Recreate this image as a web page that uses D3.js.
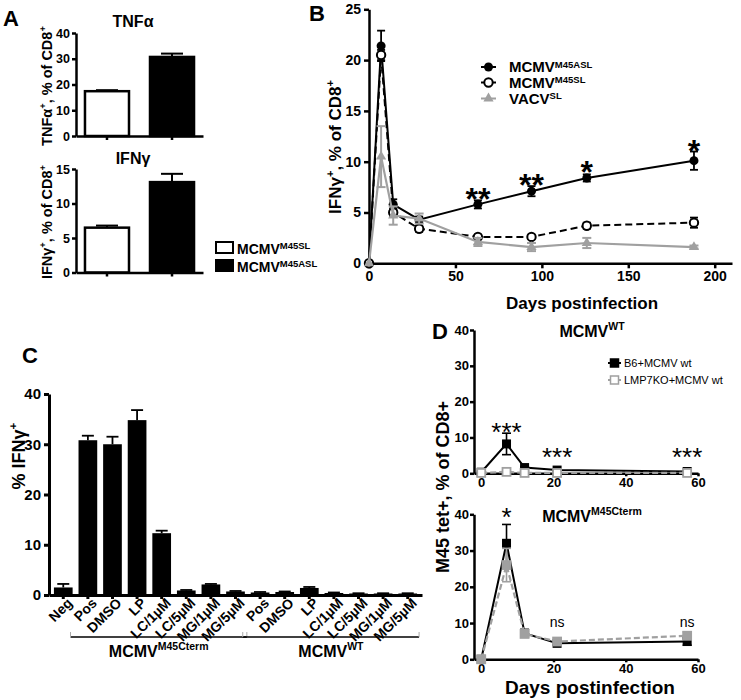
<!DOCTYPE html>
<html><head><meta charset="utf-8">
<script src="https://cdn.jsdelivr.net/npm/d3@7"></script>
<style>body{margin:0;background:#fff} svg text{font-family:Arial,"Liberation Sans",sans-serif}</style>
</head><body><svg id="c" width="741" height="700"></svg>
<script>
// ---------- DATA ----------
// Panel A
const aGroups = ["MCMV M45SL", "MCMV M45ASL"];
const aTnf = [17.4, 30.7];
const aTnfErr = [0.4, 1.3];
const aIfn = [6.5, 13.1];
const aIfnErr = [0.3, 1.2];
const aTnfTicks = [0, 10, 20, 30, 40];
const aIfnTicks = [0, 5, 10, 15];
// Panel B
const bDays = [0, 7, 14, 29, 63, 94, 126, 188];
const bAsl = [0, 21.4, 5.8, 4.3, 5.8, 7.1, 8.4, 10.1];
const bAslErr = [0, 1.5, 0.5, 0.3, 0.4, 0.5, 0.35, 0.9];
const bSl = [0, 20.5, 5.0, 3.4, 2.6, 2.6, 3.7, 4.0];
const bSlErr = [0, 0.5, 0.4, 0.3, 0.2, 0.2, 0.3, 0.5];
const bVacv = [0, 10.5, 4.7, 4.4, 2.1, 1.6, 2.0, 1.6];
const bVacvErr = [0, 3.0, 0.9, 0.5, 0.4, 0.4, 0.5, 0.15];
const bStarDays = [63, 94, 126, 188];
const bStarText = ["**", "**", "*", "*"];
const bStarLevel = [7.0, 8.4, 9.7, 11.7];
const bXTicks = [0, 50, 100, 150, 200];
const bYTicks = [0, 5, 10, 15, 20, 25];
// Panel C
const cLabels = ["Neg", "Pos", "DMSO", "LP", "LC/1µM", "LC/5µM", "MG/1µM", "MG/5µM",
                 "Pos", "DMSO", "LP", "LC/1µM", "LC/5µM", "MG/1µM", "MG/5µM"];
const cValues = [1.5, 30.8, 30.0, 34.8, 12.3, 0.9, 2.1, 0.7, 0.5, 0.6, 1.4, 0.4, 0.3, 0.3, 0.3];
const cErr = [0.7, 0.9, 1.5, 2.0, 0.5, 0.1, 0.1, 0.1, 0.1, 0.1, 0.2, 0.1, 0.05, 0.05, 0.05];
const cYTicks = [0, 10, 20, 30, 40];
const cGroupSpans = [[1, 7], [8, 14]];
const cGroupSup = ["M45Cterm", "WT"];
// Panel D
const dDays = [0, 7, 12, 21, 57];
const dWtB6 = [0.3, 8.2, 1.6, 0.9, 0.5];
const dWtB6Err = [0.2, 3.0, 0.3, 0.2, 0.2];
const dWtKo = [0.1, 0.4, 0.1, 0.1, 0.1];
const dWtKoErr = [0, 0.2, 0, 0, 0];
const dCtB6 = [0, 32.0, 7.2, 4.4, 4.9];
const dCtB6Err = [0, 5.2, 1.0, 0.5, 1.0];
const dCtKo = [0, 26.0, 7.0, 4.9, 6.5];
const dCtKoErr = [0, 4.6, 0.8, 0.5, 1.0];
const dXTicks = [0, 20, 40, 60];
const dYTicks = [0, 10, 20, 30, 40];
const dWtStarDays = [7, 21, 57];
const dWtStarLevel = [12.8, 5.9, 5.9];
const dCtMarkDays = [7, 21, 57];
const dCtMarkText = ["*", "ns", "ns"];
const dCtMarkLevel = [40.5, 9.0, 9.0];
const dLegend = ["B6+MCMV wt", "LMP7KO+MCMV wt"];

// ---------- HELPERS ----------
const svg = d3.select("#c");
const GREY = "#a0a0a0";

function rich(parent, x, y, parts, fs, opts = {}) {
  const t = parent.append("text")
    .attr("x", x).attr("y", y)
    .attr("font-size", fs)
    .attr("font-weight", opts.weight || "bold")
    .attr("text-anchor", opts.anchor || "start")
    .attr("fill", opts.fill || "#000");
  if (opts.transform) t.attr("transform", opts.transform);
  let cur = 0;
  const shift = opts.supShift || 0.42;
  parts.forEach(p => {
    const target = p.sup ? fs * shift : 0;
    const s = t.append("tspan").text(p.t);
    if (p.sup) s.attr("font-size", opts.supFs || fs * 0.65);
    if (target !== cur) s.attr("dy", -(target - cur));
    cur = target;
  });
  return t;
}
function styleAxis(g, fs, sw = 2.5) {
  g.select(".domain").attr("stroke", "#000").attr("stroke-width", sw);
  g.selectAll(".tick line").attr("stroke", "#000").attr("stroke-width", sw);
  g.selectAll(".tick text").attr("font-size", fs).attr("font-weight", "bold")
    .attr("font-family", "Arial, 'Liberation Sans', sans-serif").attr("fill", "#000");
}
function errBars(g, xs, ys, vals, errs, color, cap, sw, upOnly) {
  vals.forEach((v, i) => {
    const e = errs[i];
    if (!e) return;
    const x = xs(i), top = ys(v + e), bot = upOnly ? ys(v) : ys(Math.max(0, v - e));
    g.append("line").attr("x1", x).attr("x2", x).attr("y1", top).attr("y2", bot)
      .attr("stroke", color).attr("stroke-width", sw);
    g.append("line").attr("x1", x - cap / 2).attr("x2", x + cap / 2).attr("y1", top).attr("y2", top)
      .attr("stroke", color).attr("stroke-width", sw);
    if (!upOnly) g.append("line").attr("x1", x - cap / 2).attr("x2", x + cap / 2).attr("y1", bot).attr("y2", bot)
      .attr("stroke", color).attr("stroke-width", sw);
  });
}
function panelLetter(x, y, s) {
  svg.append("text").attr("x", x).attr("y", y).attr("font-size", 22).attr("font-weight", "bold").text(s);
}

// ---------- PANEL A ----------
panelLetter(3, 26, "A");
function aBars(vals, errs, yDomain, yRange, ticks, title, titleY, labelParts, labelY) {
  const g = svg.append("g");
  const x = d3.scaleBand().domain(aGroups).range([76, 203]).paddingInner(0.323).paddingOuter(0.138);
  const y = d3.scaleLinear().domain(yDomain).range(yRange);
  g.selectAll("rect").data(vals).join("rect")
    .attr("x", (d, i) => x(aGroups[i])).attr("width", x.bandwidth())
    .attr("y", d => y(d)).attr("height", d => y(0) - y(d))
    .attr("fill", (d, i) => i === 0 ? "#fff" : "#000")
    .attr("stroke", "#000").attr("stroke-width", 2.5);
  errBars(g, i => x(aGroups[i]) + x.bandwidth() / 2, y, vals, errs, "#000", 22, 2, true);
  const ya = g.append("g").attr("transform", "translate(76,0)")
    .call(d3.axisLeft(y).tickValues(ticks).tickSize(4).tickSizeOuter(0).tickPadding(2));
  styleAxis(ya, 12.5);
  const xa = g.append("g").attr("transform", `translate(0,${y(0)})`)
    .call(d3.axisBottom(x).tickSize(4).tickSizeOuter(0).tickFormat(""));
  styleAxis(xa, 12);
  g.append("text").attr("x", 133).attr("y", titleY).attr("text-anchor", "middle")
    .attr("font-size", 16).attr("font-weight", "bold").text(title);
  rich(g, 0, 0, labelParts, 14.5, { anchor: "middle", transform: `translate(52,${labelY}) rotate(-90)` });
}
aBars(aTnf, aTnfErr, [0, 40], [136, 33], aTnfTicks, "TNFα", 27,
  [{ t: "TNFα" }, { t: "+", sup: 1 }, { t: ", % of CD8" }, { t: "+", sup: 1 }], 86);
aBars(aIfn, aIfnErr, [0, 15], [272.5, 169], aIfnTicks, "IFNγ", 164,
  [{ t: "IFNγ" }, { t: "+", sup: 1 }, { t: ", % of CD8" }, { t: "+", sup: 1 }], 222);
// legend A
aGroups.forEach((gname, i) => {
  const yy = 242 + i * 18;
  svg.append("rect").attr("x", 216).attr("y", yy).attr("width", 17).attr("height", 11)
    .attr("fill", i === 0 ? "#fff" : "#000").attr("stroke", "#000").attr("stroke-width", 2);
  const parts = gname.split(" ");
  rich(svg, 237, yy + 12, [{ t: parts[0] }, { t: parts[1], sup: 1 }], 14, { supFs: 9.5, supShift: 0.33 });
});

// ---------- PANEL B ----------
panelLetter(309, 21, "B");
{
  const g = svg.append("g");
  const x = d3.scaleLinear().domain([0, 210]).range([369, 732]);
  const y = d3.scaleLinear().domain([0, 25]).range([263.3, 9.3]);
  const xa = g.append("g").attr("transform", `translate(0,${y(0)})`)
    .call(d3.axisBottom(x).tickValues(bXTicks).tickSize(5).tickSizeOuter(0).tickPadding(3));
  styleAxis(xa, 14);
  const ya = g.append("g").attr("transform", `translate(369,0)`)
    .call(d3.axisLeft(y).tickValues(bYTicks).tickSize(5).tickSizeOuter(0).tickPadding(3));
  styleAxis(ya, 14);
  const line = d3.line().x((d, i) => x(bDays[i])).y(d => y(d));
  const xs = i => x(bDays[i]);
  // ASL
  g.append("path").attr("d", line(bAsl)).attr("fill", "none").attr("stroke", "#000").attr("stroke-width", 2);
  errBars(g, xs, y, bAsl, bAslErr, "#000", 8, 1.8, false);
  g.selectAll(".asl").data(bAsl).join("circle").attr("cx", (d, i) => xs(i)).attr("cy", d => y(d))
    .attr("r", 4.5).attr("fill", "#000");
  // SL
  g.append("path").attr("d", line(bSl)).attr("fill", "none").attr("stroke", "#000").attr("stroke-width", 2)
    .attr("stroke-dasharray", "7,4");
  errBars(g, xs, y, bSl, bSlErr, "#000", 8, 1.8, false);
  g.selectAll(".sl").data(bSl).join("circle").attr("cx", (d, i) => xs(i)).attr("cy", d => y(d))
    .attr("r", 4.2).attr("fill", "#fff").attr("stroke", "#000").attr("stroke-width", 2);
  // VACV
  g.append("path").attr("d", line(bVacv)).attr("fill", "none").attr("stroke", GREY).attr("stroke-width", 2.2);
  errBars(g, xs, y, bVacv, bVacvErr, GREY, 9, 2, false);
  const tri = d3.symbol().type(d3.symbolTriangle).size(45);
  g.selectAll(".vv").data(bVacv).join("path").attr("d", tri)
    .attr("transform", (d, i) => `translate(${xs(i)},${y(d)})`).attr("fill", GREY);
  // stars
  bStarDays.forEach((dd, i) => {
    g.append("text").attr("x", x(dd)).attr("y", y(bStarLevel[i]) + 18).attr("text-anchor", "middle")
      .attr("font-size", 32).attr("font-weight", "bold").text(bStarText[i]);
  });
  // legend
  const legRows = [
    { y: 67, base: "MCMV", sup: "M45ASL", kind: "asl" },
    { y: 82.5, base: "MCMV", sup: "M45SL", kind: "sl" },
    { y: 98.5, base: "VACV", sup: "SL", kind: "vv" }];
  legRows.forEach(r => {
    const col = r.kind === "vv" ? GREY : "#000";
    g.append("line").attr("x1", 481).attr("x2", 496).attr("y1", r.y).attr("y2", r.y)
      .attr("stroke", col).attr("stroke-width", 2);
    if (r.kind === "asl") g.append("circle").attr("cx", 488.5).attr("cy", r.y).attr("r", 4.5).attr("fill", "#000");
    if (r.kind === "sl") g.append("circle").attr("cx", 488.5).attr("cy", r.y).attr("r", 4.2).attr("fill", "#fff")
      .attr("stroke", "#000").attr("stroke-width", 2);
    if (r.kind === "vv") g.append("path").attr("d", tri).attr("transform", `translate(488.5,${r.y})`).attr("fill", GREY);
    rich(g, 509, r.y + 5, [{ t: r.base }, { t: r.sup, sup: 1 }], 15, { supFs: 9.5, supShift: 0.3 });
  });
  g.append("text").attr("x", 582).attr("y", 309).attr("text-anchor", "middle")
    .attr("font-size", 17).attr("font-weight", "bold").text("Days postinfection");
  rich(g, 0, 0, [{ t: "IFNγ" }, { t: "+", sup: 1 }, { t: ", % of CD8" }, { t: "+", sup: 1 }], 17,
    { anchor: "middle", transform: "translate(341,147) rotate(-90)" });
}

// ---------- PANEL C ----------
panelLetter(22, 363, "C");
{
  const g = svg.append("g");
  const x = d3.scaleBand().domain(d3.range(cLabels.length)).range([49, 422]).paddingInner(0.24).paddingOuter(0.2);
  const y = d3.scaleLinear().domain([0, 40]).range([595, 394]);
  g.selectAll("rect").data(cValues).join("rect")
    .attr("x", (d, i) => x(i)).attr("width", x.bandwidth())
    .attr("y", d => y(d)).attr("height", d => y(0) - y(d)).attr("fill", "#000");
  errBars(g, i => x(i) + x.bandwidth() / 2, y, cValues, cErr, "#000", 12, 1.8, true);
  const xa = g.append("g").attr("transform", `translate(0,${y(0)})`)
    .call(d3.axisBottom(x).tickSize(4).tickSizeOuter(0).tickFormat(""));
  styleAxis(xa, 13, 3);
  const ya = g.append("g").attr("transform", "translate(49,0)")
    .call(d3.axisLeft(y).tickValues(cYTicks).tickSize(5).tickSizeOuter(0).tickPadding(3));
  styleAxis(ya, 15, 3);
  cLabels.forEach((lab, i) => {
    const cx = x(i) + x.bandwidth() / 2;
    g.append("text").attr("transform", `translate(${cx + 10},${604}) rotate(-45)`)
      .attr("text-anchor", "end").attr("font-size", 14).attr("font-weight", "bold").text(lab);
  });
  cGroupSpans.forEach((sp, k) => {
    const x0 = x(sp[0]) - 8, x1 = x(sp[1]) + x.bandwidth() + 2;
    g.append("line").attr("x1", x0).attr("x2", x1).attr("y1", 637).attr("y2", 637)
      .attr("stroke", "#000").attr("stroke-width", 1.5);
    [x0, x1].forEach(xx => g.append("line").attr("x1", xx).attr("x2", xx).attr("y1", 632).attr("y2", 637)
      .attr("stroke", "#aaa").attr("stroke-width", 1));
    rich(g, (x0 + x1) / 2, 657, [{ t: "MCMV" }, { t: cGroupSup[k], sup: 1 }], 16, { anchor: "middle", supFs: 10.5 });
  });
  rich(g, 0, 0, [{ t: "% IFNγ" }, { t: "+", sup: 1 }], 18, { anchor: "middle", transform: "translate(25,456) rotate(-90)" });
}

// ---------- PANEL D ----------
panelLetter(432, 339, "D");
function dPlot(yRange, b6, b6Err, ko, koErr, koFilled, title, titleY) {
  const g = svg.append("g");
  const x = d3.scaleLinear().domain([-2, 60]).range([474, 698]);
  const y = d3.scaleLinear().domain([0, 40]).range(yRange);
  const xa = g.append("g").attr("transform", `translate(0,${y(0)})`)
    .call(d3.axisBottom(x).tickValues(dXTicks).tickSize(3).tickSizeOuter(0).tickPadding(1));
  styleAxis(xa, 13, 2.5);
  const ya = g.append("g").attr("transform", "translate(474,0)")
    .call(d3.axisLeft(y).tickValues(dYTicks).tickSize(4).tickSizeOuter(0).tickPadding(1));
  styleAxis(ya, 13, 2.5);
  const xs = i => x(dDays[i]);
  const line = d3.line().x((d, i) => xs(i)).y(d => y(d));
  // B6 black
  g.append("path").attr("d", line(b6)).attr("fill", "none").attr("stroke", "#000").attr("stroke-width", 2);
  errBars(g, xs, y, b6, b6Err, "#000", 9, 1.6, false);
  g.selectAll(".b6").data(b6).join("rect").attr("x", (d, i) => xs(i) - 4.5).attr("y", d => y(d) - 4.5)
    .attr("width", 9).attr("height", 9).attr("fill", "#000");
  // KO grey dashed
  g.append("path").attr("d", line(ko)).attr("fill", "none").attr("stroke", GREY).attr("stroke-width", 2.2)
    .attr("stroke-dasharray", "6,3");
  errBars(g, xs, y, ko, koErr, GREY, 9, 1.6, false);
  g.selectAll(".ko").data(ko).join("rect").attr("x", (d, i) => xs(i) - 4).attr("y", d => y(d) - 4)
    .attr("width", 8).attr("height", 8).attr("fill", koFilled ? GREY : "#fff")
    .attr("stroke", GREY).attr("stroke-width", 1.8);
  rich(g, 592, titleY, [{ t: "MCMV" }, { t: title, sup: 1 }], 16, { anchor: "middle", supFs: 10.5 });
  return { g, x, y };
}
{
  const top = dPlot([473.3, 330], dWtB6, dWtB6Err, dWtKo, dWtKoErr, false, "WT", 337);
  dWtStarDays.forEach((dd, i) => {
    top.g.append("text").attr("x", top.x(dd)).attr("y", top.y(dWtStarLevel[i]) + 14)
      .attr("text-anchor", "middle").attr("font-size", 26).text("***");
  });
  // legend
  dLegend.forEach((lab, i) => {
    const yy = 363 + i * 17;
    const col = i === 0 ? "#000" : GREY;
    top.g.append("line").attr("x1", 608).attr("x2", 621).attr("y1", yy).attr("y2", yy)
      .attr("stroke", col).attr("stroke-width", 2);
    top.g.append("rect").attr("x", 610.5).attr("y", yy - 4).attr("width", 8).attr("height", 8)
      .attr("fill", i === 0 ? "#000" : "#fff").attr("stroke", col).attr("stroke-width", 1.5);
    top.g.append("text").attr("x", 624).attr("y", yy + 4).attr("font-size", 11).text(lab);
  });
  const bot = dPlot([659.3, 514.3], dCtB6, dCtB6Err, dCtKo, dCtKoErr, true, "M45Cterm", 522);
  dCtMarkDays.forEach((dd, i) => {
    const isStar = dCtMarkText[i] === "*";
    bot.g.append("text").attr("x", bot.x(dd)).attr("y", bot.y(dCtMarkLevel[i]) + (isStar ? 14 : 0))
      .attr("text-anchor", "middle").attr("font-size", isStar ? 26 : 14).text(dCtMarkText[i]);
  });
  svg.append("text").attr("x", 590).attr("y", 694).attr("text-anchor", "middle")
    .attr("font-size", 19).attr("font-weight", "bold").text("Days postinfection");
  svg.append("text").attr("transform", "translate(449,487) rotate(-90)").attr("text-anchor", "middle")
    .attr("font-size", 18).attr("font-weight", "bold").text("M45 tet+, % of CD8+");
}
</script></body></html>
